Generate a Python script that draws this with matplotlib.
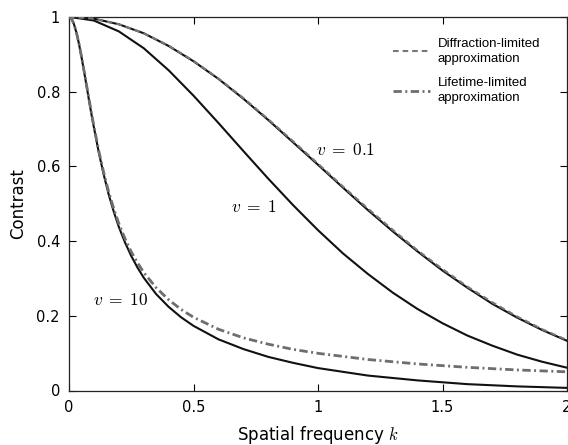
import matplotlib
matplotlib.use('Agg')
import matplotlib.pyplot as plt

# spatial frequency samples (coarse for slow curves, fine for the steep v = 10 ones)
k_coarse = [0.0, 0.1, 0.2, 0.3, 0.4, 0.5, 0.6, 0.7, 0.8, 0.9, 1.0,
            1.1, 1.2, 1.3, 1.4, 1.5, 1.6, 1.7, 1.8, 1.9, 2.0]
k_fine = [0.0, 0.01, 0.02, 0.03, 0.04, 0.05, 0.06, 0.07, 0.08, 0.09, 0.10,
          0.12, 0.14, 0.16, 0.18, 0.20, 0.225, 0.25, 0.275, 0.30, 0.35,
          0.40, 0.45, 0.50, 0.6, 0.7, 0.8, 0.9, 1.0, 1.2, 1.4, 1.6, 1.8, 2.0]

# contrast
c_v01 = [1.000, 0.995, 0.980, 0.956, 0.922, 0.881, 0.834, 0.781, 0.724, 0.664, 0.604,
         0.543, 0.483, 0.426, 0.372, 0.321, 0.275, 0.232, 0.195, 0.162, 0.133]
c_v1 = [1.000, 0.990, 0.961, 0.916, 0.857, 0.789, 0.716, 0.641, 0.567, 0.496, 0.429,
        0.367, 0.312, 0.262, 0.218, 0.180, 0.147, 0.120, 0.096, 0.077, 0.061]
c_v10 = [1.000, 0.995, 0.980, 0.957, 0.928, 0.893, 0.856, 0.817, 0.778, 0.740, 0.704,
         0.636, 0.576, 0.523, 0.478, 0.438, 0.396, 0.360, 0.329, 0.302, 0.258,
         0.224, 0.196, 0.173, 0.137, 0.111, 0.090, 0.074, 0.060, 0.040, 0.027,
         0.017, 0.011, 0.007]
c_diffraction = [1.000, 0.995, 0.980, 0.956, 0.923, 0.882, 0.835, 0.783, 0.726, 0.667, 0.607,
                 0.546, 0.487, 0.430, 0.375, 0.325, 0.278, 0.236, 0.198, 0.164, 0.135]
c_lifetime = [1.000, 0.995, 0.981, 0.958, 0.928, 0.894, 0.857, 0.819, 0.781, 0.743, 0.707,
              0.640, 0.581, 0.530, 0.486, 0.447, 0.406, 0.371, 0.342, 0.316, 0.275,
              0.243, 0.217, 0.196, 0.164, 0.141, 0.124, 0.110, 0.0995, 0.083, 0.071,
              0.062, 0.055, 0.050]

xticks = [0, 0.5, 1, 1.5, 2]
xtick_labels = ['0', '0.5', '1', '1.5', '2']
yticks = [0, 0.2, 0.4, 0.6, 0.8, 1]
ytick_labels = ['0', '0.2', '0.4', '0.6', '0.8', '1']

plt.rcParams['mathtext.fontset'] = 'cm'
plt.rcParams['font.family'] = 'DejaVu Sans'

fig = plt.figure(figsize=(5.68, 4.45), dpi=100)
ax = fig.add_axes([69 / 568, 54.5 / 445, 498 / 568, 373.7 / 445])

ax.plot(k_coarse, c_v01, color='#111111', lw=1.5, zorder=2)
ax.plot(k_coarse, c_v1, color='#111111', lw=1.5, zorder=2)
ax.plot(k_fine, c_v10, color='#111111', lw=1.5, zorder=2)
ax.plot(k_coarse, c_diffraction, color='#777777', lw=1.5,
        linestyle=(0, (2.7, 1.9)), zorder=3,
        label='Diffraction-limited\napproximation')
ax.plot(k_fine, c_lifetime, color='#6e6e6e', lw=2.0,
        linestyle=(0, (3.0, 1.25, 0.7, 1.25)), zorder=3,
        label='Lifetime-limited\napproximation')

ax.text(1.112, 0.644, r'$v\;=\;0.1$', fontsize=12.5, ha='center', va='center')
ax.text(0.743, 0.492, r'$v\;=\;1$', fontsize=12.5, ha='center', va='center')
ax.text(0.208, 0.242, r'$v\;=\;10$', fontsize=12.5, ha='center', va='center')

ax.set_xlim(0, 2)
ax.set_ylim(0, 1)
ax.set_xticks(xticks, xtick_labels)
ax.set_yticks(yticks, ytick_labels)
ax.tick_params(direction='in', length=5, width=0.8, top=True, right=True,
               labelsize=10.5, pad=6.5)
for s in ax.spines.values():
    s.set_color('#222222')
    s.set_linewidth(0.9)

ax.set_xlabel(r'Spatial frequency $k$', fontsize=12)
ax.set_ylabel('Contrast', fontsize=12)
ax.xaxis.set_label_coords(0.5, -0.089)
ax.yaxis.set_label_coords(-0.085, 0.5)

leg = ax.legend(loc='upper left', bbox_to_anchor=(0.64, 0.957), frameon=False,
                prop={'family': 'Liberation Sans', 'size': 9.5},
                handlelength=2.8, handletextpad=0.6, labelspacing=0.95,
                borderaxespad=0)
for t in leg.get_texts():
    t.set_linespacing(1.3)

fig.savefig('out.png', dpi=100)
